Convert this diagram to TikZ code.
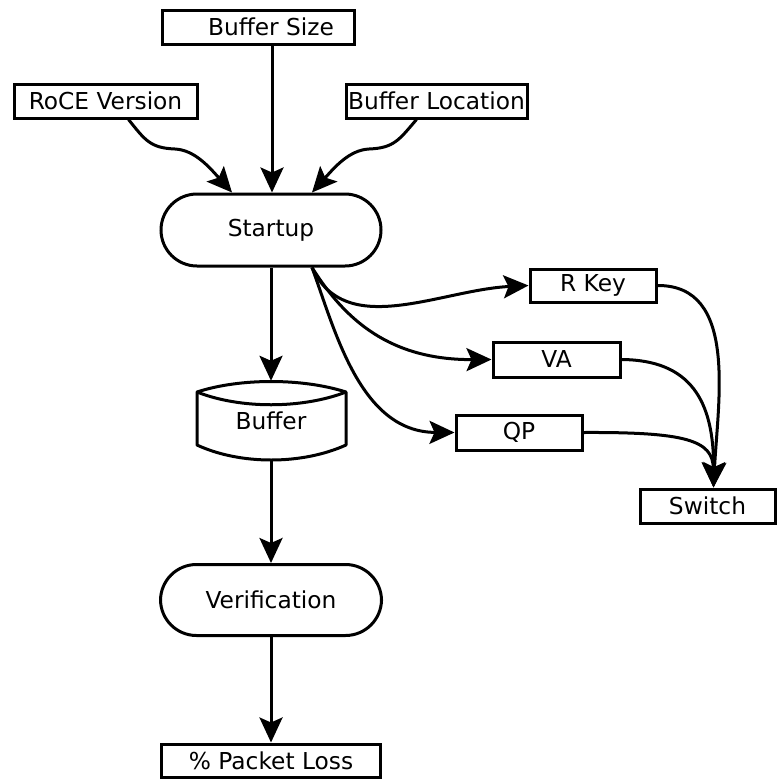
\documentclass[tikz,border=0pt]{standalone}
\usepackage{fontspec}
\setmainfont{DejaVu Sans}
\usetikzlibrary{arrows.meta}
\begin{document}
\begin{tikzpicture}[x=1pt,y=-1pt,
  lbl/.style={font=\fontsize{23.3}{27}\selectfont},
  box/.style={lbl,draw,line width=3pt,inner sep=0pt},
  pill/.style={box,rounded corners=36pt},
  conn/.style={line width=3pt,-{Stealth[length=25pt,width=23pt,inset=5pt]}}]
\useasboundingbox (0,0) rectangle (778,782);
% nodes
\node[box,minimum width=192pt,minimum height=34pt] (bsize) at (258,27) {\hspace*{26pt}Buffer Size};
\node[box,minimum width=183pt,minimum height=34pt] (roce) at (105.5,101) {RoCE Version};
\node[box,minimum width=181pt,minimum height=34pt] (bloc) at (436.5,101) {Buffer Location};
\node[pill,minimum width=220pt,minimum height=72pt] (startup) at (271,230) {Startup};
\node[lbl,inner sep=0pt,minimum width=149pt,minimum height=80pt] (buf) at (271,421) {\raisebox{-3pt}{Buffer}};
\node[pill,minimum width=221pt,minimum height=71pt] (verif) at (271,600) {Verification};
\node[box,minimum width=219pt,minimum height=33pt] (ploss) at (271,760.5) {\% Packet Loss};
\node[box,minimum width=126pt,minimum height=33pt] (rkey) at (593,285.5) {R Key};
\node[box,minimum width=127pt,minimum height=35pt] (va) at (556.5,359.5) {VA};
\node[box,minimum width=126pt,minimum height=35pt] (qp) at (519,432.5) {QP};
\node[box,minimum width=135pt,minimum height=34pt] (switch) at (707.5,506) {Switch};
% buffer shape
\draw[line width=3pt,line join=round] (197,392) .. controls (240,378) and (302,378) .. (346,392)
  -- (346,445) .. controls (302,465) and (240,465) .. (197,445) -- cycle;
\draw[line width=3pt] (197,392) .. controls (240,409) and (302,409) .. (346,392);
% connectors
\draw[conn] ([xshift=14pt]bsize.south) -- ([xshift=1pt]startup.north);
\draw[conn] ([xshift=23pt]roce.south) .. controls (145,140) and (150,148) .. (175,149)
  .. controls (195,150) and (210,168) .. ([xshift=-39pt]startup.north);
\draw[conn] ([xshift=-20pt]bloc.south) .. controls (399,140) and (394,148) .. (369,149)
  .. controls (349,150) and (334,168) .. ([xshift=41pt]startup.north);
\coordinate (so) at ([xshift=41pt]startup.south);
\draw[conn] (so) .. controls (345,340) and (440,290) .. (rkey.west);
\draw[conn] (so) .. controls (345,320) and (390,360) .. (va.west);
\draw[conn] (so) .. controls (335,330) and (360,432) .. (qp.west);
\draw[conn] (startup.south) -- (buf.north);
\draw[conn] (buf.south) -- (verif.north);
\draw[conn] (verif.south) -- (ploss.north);
\coordinate (sw) at ([xshift=6pt]switch.north);
\draw[conn] (rkey.east) .. controls (738,285) and (718,400) .. (sw);
\draw[conn] (va.east) .. controls (690,360) and (714,400) .. (sw);
\draw[conn] (qp.east) .. controls (685,432) and (713,440) .. (sw);
\end{tikzpicture}
\end{document}
